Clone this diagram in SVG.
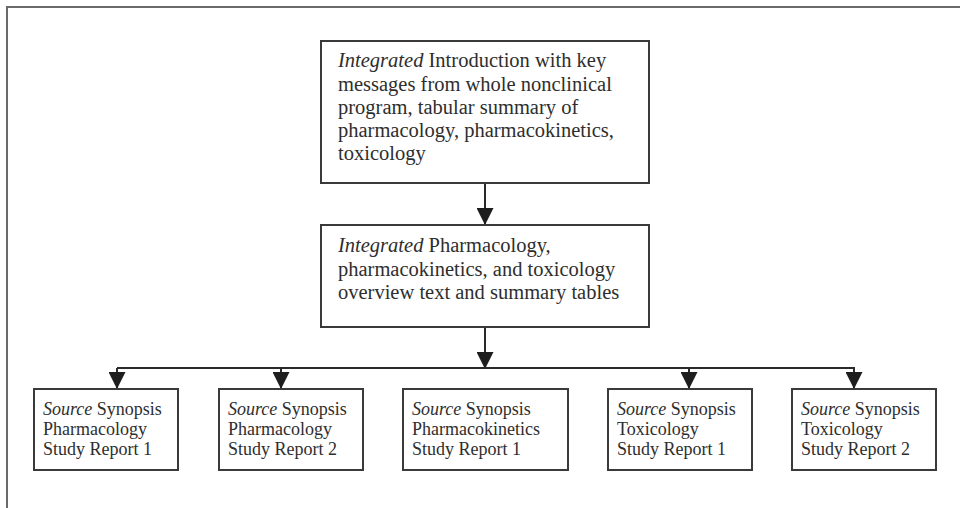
<svg xmlns="http://www.w3.org/2000/svg" width="960" height="508" viewBox="0 0 960 508">
<defs>
<style>
.box{fill:#ffffff;stroke:#3a3a3a;stroke-width:2}
.conn{stroke:#2a2a2a;stroke-width:2;fill:none}
.t{font-family:"Liberation Serif","Times New Roman",serif;fill:#2e2e2e}
.big{font-size:20.5px}
.small{font-size:18px}
.i{font-style:italic}
.frame{stroke:#6a6a6a;stroke-width:2;fill:none}
</style>
<marker id="ah" markerUnits="userSpaceOnUse" markerWidth="17" markerHeight="17" refX="17" refY="8.5" orient="auto" viewBox="0 0 17 17">
<path d="M0,0 L17,8.5 L0,17 z" fill="#1e1e1e"/>
</marker>
</defs>
<rect x="0" y="0" width="960" height="508" fill="#ffffff"/>
<path class="frame" d="M7,508 L7,7 L960,7"/>
<g id="connectors">
<line class="conn" x1="485" y1="183" x2="485" y2="225" marker-end="url(#ah)"/>
<line class="conn" x1="485" y1="327" x2="485" y2="369" marker-end="url(#ah)"/>
<line class="conn" x1="117" y1="368" x2="855" y2="368"/>
<line class="conn" x1="117" y1="368" x2="117" y2="389" marker-end="url(#ah)"/>
<line class="conn" x1="281" y1="368" x2="281" y2="389" marker-end="url(#ah)"/>
<line class="conn" x1="689" y1="368" x2="689" y2="389" marker-end="url(#ah)"/>
<line class="conn" x1="854" y1="368" x2="854" y2="389" marker-end="url(#ah)"/>
</g>
<g id="intro">
<rect class="box" x="321" y="41" width="328" height="142"/>
<text class="t big">
<tspan x="338" y="67"><tspan class="i">Integrated</tspan> Introduction with key</tspan>
<tspan x="338" y="91">messages from whole nonclinical</tspan>
<tspan x="338" y="114">program, tabular summary of</tspan>
<tspan x="338" y="137">pharmacology, pharmacokinetics,</tspan>
<tspan x="338" y="160">toxicology</tspan>
</text>
</g>
<g id="overview">
<rect class="box" x="321" y="225" width="328" height="102"/>
<text class="t big">
<tspan x="338" y="252"><tspan class="i">Integrated</tspan> Pharmacology,</tspan>
<tspan x="338" y="276">pharmacokinetics, and toxicology</tspan>
<tspan x="338" y="299">overview text and summary tables</tspan>
</text>
</g>
<g id="src1">
<rect class="box" x="34" y="389" width="144" height="81"/>
<text class="t small">
<tspan x="43" y="415"><tspan class="i">Source</tspan> Synopsis</tspan>
<tspan x="43" y="435">Pharmacology</tspan>
<tspan x="43" y="455">Study Report 1</tspan>
</text>
</g>
<g id="src2">
<rect class="box" x="219" y="389" width="144" height="81"/>
<text class="t small">
<tspan x="228" y="415"><tspan class="i">Source</tspan> Synopsis</tspan>
<tspan x="228" y="435">Pharmacology</tspan>
<tspan x="228" y="455">Study Report 2</tspan>
</text>
</g>
<g id="src3">
<rect class="box" x="403" y="389" width="165" height="81"/>
<text class="t small">
<tspan x="412" y="415"><tspan class="i">Source</tspan> Synopsis</tspan>
<tspan x="412" y="435">Pharmacokinetics</tspan>
<tspan x="412" y="455">Study Report 1</tspan>
</text>
</g>
<g id="src4">
<rect class="box" x="608" y="389" width="144" height="81"/>
<text class="t small">
<tspan x="617" y="415"><tspan class="i">Source</tspan> Synopsis</tspan>
<tspan x="617" y="435">Toxicology</tspan>
<tspan x="617" y="455">Study Report 1</tspan>
</text>
</g>
<g id="src5">
<rect class="box" x="792" y="389" width="144" height="81"/>
<text class="t small">
<tspan x="801" y="415"><tspan class="i">Source</tspan> Synopsis</tspan>
<tspan x="801" y="435">Toxicology</tspan>
<tspan x="801" y="455">Study Report 2</tspan>
</text>
</g>
</svg>
